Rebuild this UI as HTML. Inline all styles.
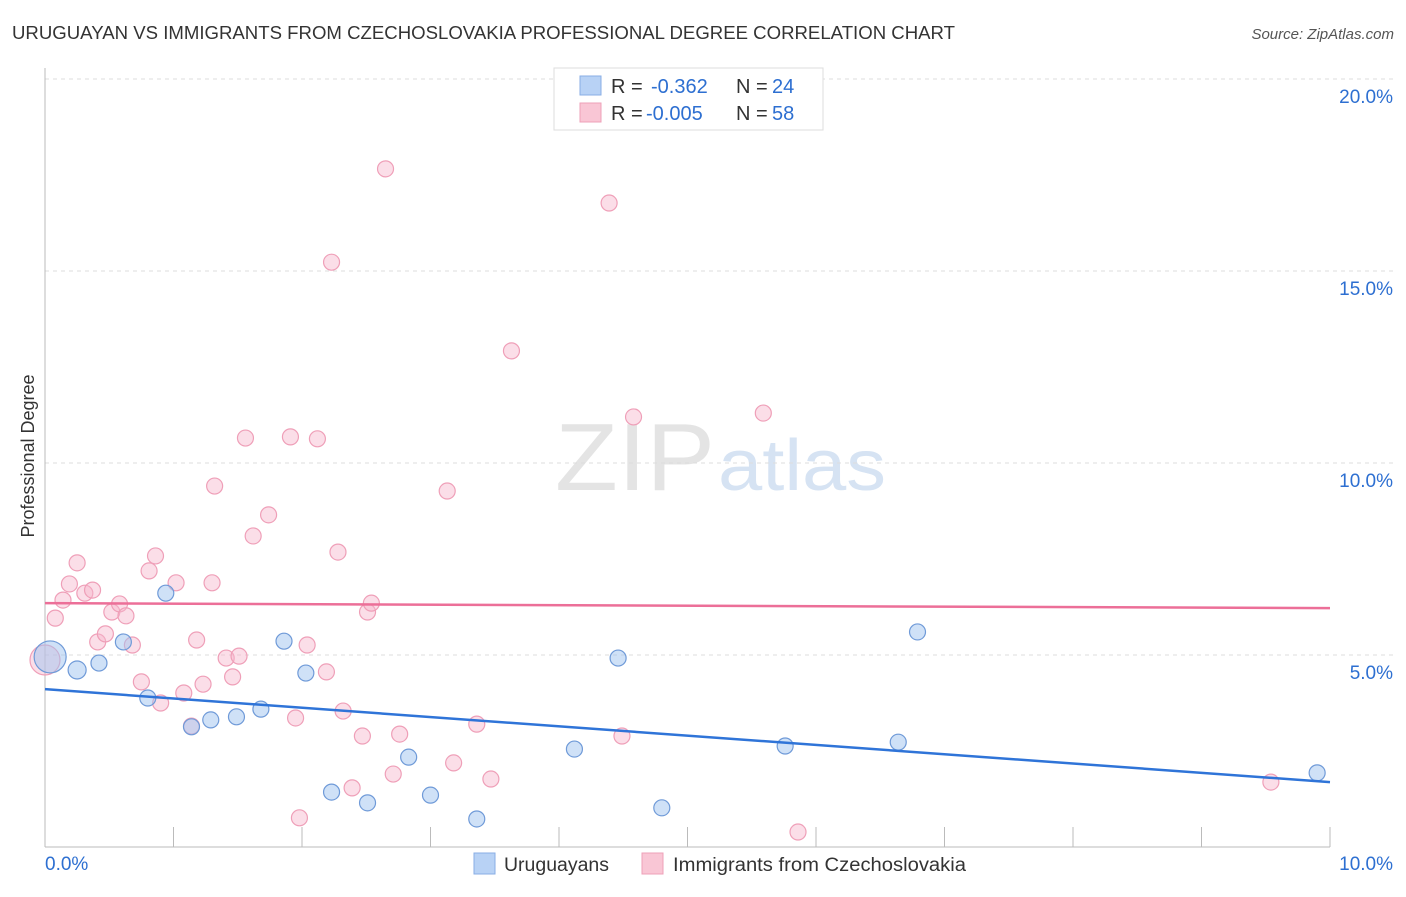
<!DOCTYPE html>
<html><head><meta charset="utf-8"><style>
body{margin:0;background:#fff;font-family:"Liberation Sans",sans-serif;}
svg text{font-family:"Liberation Sans",sans-serif;}
</style></head><body>
<svg id="chart" width="1406" height="892">
<text x="12" y="39" font-size="18" fill="#333" textLength="943" lengthAdjust="spacingAndGlyphs">URUGUAYAN VS IMMIGRANTS FROM CZECHOSLOVAKIA PROFESSIONAL DEGREE CORRELATION CHART</text>
<text x="1394" y="39" font-size="15" fill="#555" font-style="italic" text-anchor="end">Source: ZipAtlas.com</text>
<text x="555" y="490" font-size="96" fill="#e4e4e4" textLength="160" lengthAdjust="spacingAndGlyphs" font-family="Liberation Serif">ZIP</text>
<text x="718" y="490" font-size="72" fill="#d6e3f3" textLength="168" lengthAdjust="spacingAndGlyphs">atlas</text>
<text x="34" y="456" font-size="18" fill="#333" text-anchor="middle" transform="rotate(-90 34 456)">Professional Degree</text>
<g id="grid"></g><g id="marks"></g>
<g>
<rect x="554" y="68" width="269" height="62" fill="#fff" stroke="#ddd"/>
<rect x="580" y="76" width="21" height="19" fill="#b8d2f5" stroke="#88aee5"/>
<rect x="580" y="103" width="21" height="19" fill="#f9c6d5" stroke="#eea0b8"/>
<text x="611" y="93" font-size="20" fill="#333">R = <tspan fill="#2d6fd1" x="651">-0.362</tspan><tspan fill="#333" x="736">N = </tspan><tspan fill="#2d6fd1" x="772">24</tspan></text>
<text x="611" y="120" font-size="20" fill="#333">R = <tspan fill="#2d6fd1" x="646">-0.005</tspan><tspan fill="#333" x="736">N = </tspan><tspan fill="#2d6fd1" x="772">58</tspan></text>
</g>
<g>
<rect x="474" y="853" width="21" height="21" fill="#b8d2f5" stroke="#88aee5"/>
<text x="504" y="871" font-size="19" fill="#333" textLength="105" lengthAdjust="spacingAndGlyphs">Uruguayans</text>
<rect x="642" y="853" width="21" height="21" fill="#f9c6d5" stroke="#eea0b8"/>
<text x="673" y="871" font-size="19" fill="#333" textLength="293" lengthAdjust="spacingAndGlyphs">Immigrants from Czechoslovakia</text>
</g>
</svg>
<script>
const yTicks=[5,10,15,20];
const xTickLabels=["0.0%","10.0%"];
const blueX=[0.04,0.25,0.42,0.61,0.80,0.94,1.14,1.29,1.49,1.68,1.86,2.03,2.23,2.51,2.83,3.00,3.36,4.12,4.46,4.80,5.76,6.64,6.79,9.90];
const blueY=[4.95,4.61,4.79,5.34,3.88,6.61,3.13,3.31,3.39,3.59,5.36,4.53,1.43,1.15,2.34,1.35,0.73,2.55,4.92,1.02,2.63,2.73,5.60,1.93];
const blueR=[16,9,8,8,8,8,8,8,8,8,8,8,8,8,8,8,8,8,8,8,8,8,8,8];
const pinkX=[0.0,0.08,0.14,0.19,0.25,0.31,0.37,0.41,0.47,0.52,0.58,0.63,0.68,0.75,0.81,0.86,0.90,1.02,1.08,1.14,1.18,1.23,1.30,1.32,1.41,1.46,1.51,1.56,1.62,1.74,1.91,1.95,1.98,2.04,2.12,2.19,2.23,2.28,2.32,2.39,2.47,2.51,2.54,2.65,2.71,2.76,3.13,3.18,3.36,3.47,3.63,4.39,4.49,4.58,5.59,5.86,9.54];
const pinkY=[4.87,5.96,6.43,6.85,7.40,6.61,6.69,5.34,5.55,6.12,6.33,6.02,5.26,4.30,7.19,7.58,3.75,6.88,4.01,3.15,5.39,4.24,6.88,9.40,4.92,4.43,4.97,10.65,8.10,8.65,10.68,3.36,0.76,5.26,10.63,4.56,15.23,7.68,3.54,1.54,2.89,6.12,6.35,17.66,1.90,2.94,9.27,2.19,3.20,1.77,12.92,16.77,2.89,11.20,11.30,0.39,1.69];
const blueTrend=[4.11,1.69];
const pinkTrend=[6.35,6.22];
const NS="http://www.w3.org/2000/svg";
const X=v=>45+v*128.5, Y=v=>847-v*38.4;
function mk(t,a,p){const e=document.createElementNS(NS,t);for(const k in a)e.setAttribute(k,a[k]);p.appendChild(e);return e;}
const g=document.getElementById('grid'), m=document.getElementById('marks');
yTicks.forEach(t=>{
 const l=mk('line',{x1:45,x2:1394,y1:Y(t),y2:Y(t),stroke:'#ddd','stroke-dasharray':'4,4'},g);
 
 
 const tx=mk('text',{x:1393,y:Y(t)+24,'font-size':19,fill:'#2d6fd1','text-anchor':'end'},g);
 tx.textContent=t.toFixed(1)+'%';
 
 
});
const ax=mk('line',{x1:45,x2:45,y1:68,y2:847,stroke:'#bbb'},g);


const bx=mk('line',{x1:45,x2:1330,y1:847,y2:847,stroke:'#bbb'},g);


for(let i=0;i<=10;i++){
 const t=mk('line',{x1:X(i),x2:X(i),y1:827,y2:847,stroke:'#bbb'},g);
 
 
}
[[0,'start',45],[1,'end',1393]].forEach(([i,a,x])=>{
 const t=mk('text',{x:x,y:870,'font-size':19,fill:'#2d6fd1','text-anchor':a},g);
 t.textContent=xTickLabels[i];
 
 
});
pinkX.forEach((x,i)=>{
 const c=mk('circle',{cx:X(x),cy:Y(pinkY[i]),r:i==0?15:8,fill:'rgba(247,182,203,0.45)',stroke:'#ef9fb8','stroke-width':1.2},m);
 
 
});
blueX.forEach((x,i)=>{
 const c=mk('circle',{cx:X(x),cy:Y(blueY[i]),r:blueR[i],fill:'rgba(160,196,240,0.5)',stroke:'#6f9ad8','stroke-width':1.2},m);
 
 
});
const bl=mk('line',{x1:X(0),x2:X(10),y1:Y(blueTrend[0]),y2:Y(blueTrend[1]),stroke:'#2f74d8','stroke-width':2.5},m);


const pl=mk('line',{x1:X(0),x2:X(10),y1:Y(pinkTrend[0]),y2:Y(pinkTrend[1]),stroke:'#ec6f98','stroke-width':2.5},m);


</script>
</body></html>
